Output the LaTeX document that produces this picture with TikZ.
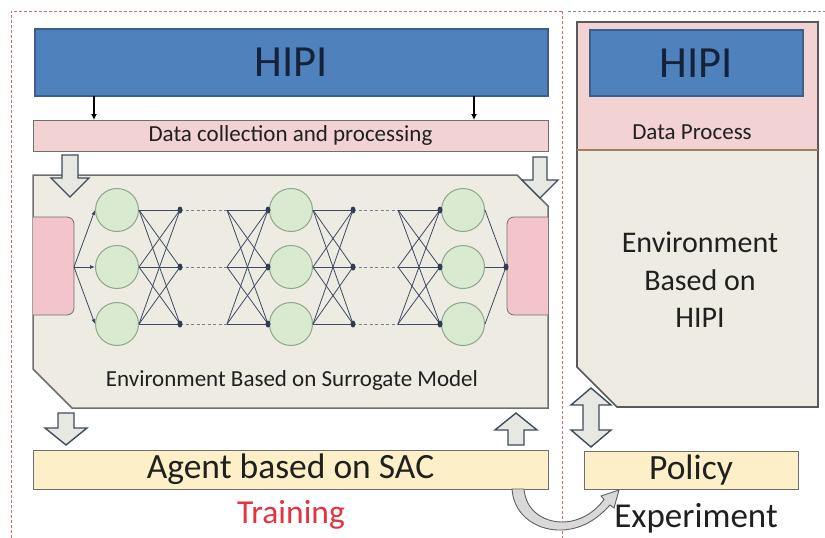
\documentclass[tikz,border=0pt]{standalone}
\usepackage{fontspec}
\setmainfont{Carlito}
\usetikzlibrary{arrows.meta}
\definecolor{hipiblue}{HTML}{4F81BD}
\definecolor{hipiborder}{HTML}{3A5F8C}
\definecolor{hipitext}{HTML}{16213A}
\definecolor{datapink}{HTML}{F2D2D2}
\definecolor{sidepink}{HTML}{F3C4C9}
\definecolor{envbeige}{HTML}{EEECE2}
\definecolor{neurgreen}{HTML}{D9EAD0}
\definecolor{neurborder}{HTML}{8EA58E}
\definecolor{agentyellow}{HTML}{FDF0C9}
\definecolor{boxborder}{HTML}{6F6F6F}
\definecolor{nncol}{HTML}{3C4A66}
\definecolor{arrowline}{HTML}{3E4C5C}
\definecolor{arrowfill}{HTML}{E8E8E2}
\definecolor{trainred}{HTML}{E2333E}
\definecolor{framered}{HTML}{D46A6A}
\definecolor{framegray}{HTML}{8A8A9A}
\definecolor{txt}{HTML}{202020}
\newcommand{\blkarr}[6]{%
  \draw[blkarrow] ({#1-#5},#2) -- ({#1+#5},#2) -- ({#1+#5},#3) -- ({#1+#6},#3)
    -- (#1,#4) -- ({#1-#6},#3) -- ({#1-#5},#3) -- cycle;}
\begin{document}
\begin{tikzpicture}[x=1pt,y=-1pt,
  bluebox/.style={draw=hipiborder,line width=1.2pt,fill=hipiblue,inner sep=0pt,outer sep=0pt,
     text=hipitext,font=\fontsize{44.5}{48}\selectfont},
  databox/.style={draw=boxborder,line width=1pt,fill=datapink,inner sep=0pt,outer sep=0pt,
     text=txt,font=\fontsize{23}{27}\selectfont},
  yellowbox/.style={draw=boxborder,line width=1pt,fill=agentyellow,inner sep=0pt,outer sep=0pt,
     text=txt,font=\fontsize{35.5}{40}\selectfont},
  envbox/.style={draw=boxborder,line width=1.5pt,fill=envbeige},
  sidebox/.style={draw=boxborder,line width=0.8pt,fill=sidepink,rounded corners=7pt},
  neuron/.style={circle,draw=neurborder,line width=1pt,fill=neurgreen,minimum size=43pt,inner sep=0pt},
  nnline/.style={draw=nncol,line width=0.8pt},
  nndash/.style={draw=nncol!70,line width=0.7pt,dash pattern=on 3pt off 2.5pt},
  blkarrow/.style={draw=arrowline,line width=1.4pt,fill=arrowfill,line join=miter},
  redframe/.style={draw=framered,line width=0.8pt,dash pattern=on 3pt off 2pt},
  grayframe/.style={draw=framegray,line width=0.8pt,dash pattern=on 3pt off 2pt},
  lbl/.style={text=txt,inner sep=0pt}
]
\useasboundingbox (0,0) rectangle (825,538);

% frames
\draw[redframe] (11,538) -- (11,11) -- (562,11);
\draw[redframe] (562,11) -- (562,538);
\draw[grayframe] (568,11) -- (825,11);

% left column
\node[bluebox,minimum width=513pt,minimum height=67pt] (hipi) at (291.5,62.5) {HIPI};
\node[databox,minimum width=515pt,minimum height=31pt] (data) at (290.5,135.5) {Data collection and processing};
\coordinate (h1) at (94,96); \coordinate (h2) at (474,96);
\coordinate (d1) at (94,120); \coordinate (d2) at (474,120);
\draw[line width=1.4pt,-{Latex[length=6pt,width=6pt]}] (h1) -- (d1);
\draw[line width=1.4pt,-{Latex[length=6pt,width=6pt]}] (h2) -- (d2);

% environment surrogate
\draw[envbox] (33,175) -- (517,175) -- (548,206) -- (548,408) -- (72,408) -- (33,369) -- cycle;
\filldraw[sidebox] (33,217) -- (74,217) -- (74,315) -- (33,315);
\filldraw[sidebox] (548,217) -- (507,217) -- (507,315) -- (548,315);
\node[lbl,font=\fontsize{23}{27}\selectfont] (envsur) at (292,380) {Environment Based on Surrogate Model};

% neural net
\foreach \c/\x in {1/117,2/291,3/463}{
  \foreach \r/\y in {1/210,2/267,3/324}{
    \node[neuron] (n\c\r) at (\x,\y) {};
  }
}
\foreach \r/\y in {1/210,2/267,3/324}{
  \coordinate (a\r) at (180,\y);
  \coordinate (fa\r) at (227,\y);
  \coordinate (b\r) at (268,\y);
  \coordinate (c\r) at (353,\y);
  \coordinate (fb\r) at (398,\y);
  \coordinate (d\r) at (440,\y);
}
\coordinate (nin) at (74,267);
\coordinate (nout) at (506,267);
\foreach \r in {1,2,3}{
  \draw[nnline,-{Latex[length=5pt,width=4pt]}] (nin) -- (n1\r.west);
  \draw[nnline] (n3\r.east) -- (nout);
  \draw[nndash] (a\r) -- (fa\r);
  \draw[nndash] (c\r) -- (fb\r);
  \foreach \s in {1,2,3}{
    \draw[nnline] (n1\r.east) -- (a\s);
    \draw[nnline] (fa\r) -- (b\s);
    \draw[nnline] (n2\r.east) -- (c\s);
    \draw[nnline] (fb\r) -- (d\s);
  }
  \fill[nncol!80!black] (a\r) ellipse (2.5pt and 3.5pt);
  \fill[nncol!80!black] (b\r) ellipse (2.5pt and 3.5pt);
  \fill[nncol!80!black] (c\r) ellipse (2.5pt and 3.5pt);
  \fill[nncol!80!black] (d\r) ellipse (2.5pt and 3.5pt);
}
\fill[nncol!80!black] (nout) ellipse (2.5pt and 3.5pt);

% block arrows
\blkarr{70}{155}{178}{197}{8}{19}
\blkarr{540}{157}{180}{198}{7}{18}
\blkarr{66}{413}{428}{445}{8}{21}
\blkarr{516}{445}{430}{413}{8}{21}

% agent
\node[yellowbox,minimum width=515pt,minimum height=39pt] (agent) at (290.5,469.5) {Agent based on SAC};
\node[lbl,text=trainred,font=\fontsize{33.5}{38}\selectfont] (train) at (291,515) {Training};

% right panel
\draw[envbox,line width=1.6pt,draw=boxborder!80!black] (577,22) -- (818,22) -- (818,407) -- (617,407) -- (577,367) -- cycle;
\fill[datapink] (577.8,22.8) rectangle (817.2,150);
\draw[draw=boxborder!80!black,line width=1.6pt] (577,22) -- (818,22) -- (818,150);
\draw[draw=boxborder!80!black,line width=1.6pt] (577,22) -- (577,150);
\draw[draw=brown!50!gray,line width=1.6pt] (577,150) -- (818,150);
\node[bluebox,minimum width=213pt,minimum height=66pt] (hipi2) at (696.5,63) {HIPI};
\node[lbl,font=\fontsize{23}{27}\selectfont] (dproc) at (692,132) {Data Process};
\node[lbl,font=\fontsize{30}{37.5}\selectfont,align=center] (envh) at (700,280) {Environment\\Based on\\HIPI};

% double arrow
\draw[blkarrow] (591,388) -- (611,405) -- (599,405) -- (599,430) -- (611,430) -- (591,447)
  -- (571,430) -- (583,430) -- (583,405) -- (571,405) -- cycle;

% policy
\node[yellowbox,minimum width=214pt,minimum height=38pt] (policy) at (691,470) {Policy};
\node[lbl,font=\fontsize{35}{40}\selectfont] (exper) at (696,518) {Experiment};

% curved arrow
\draw[draw=gray!75!black,line width=0.9pt,fill=gray!30]
  (512,489) .. controls (514,518) and (540,531) .. (562,530)
  .. controls (585,529) and (600,516) .. (610,505)
  -- (614,508) -- (619,490) -- (601,496) -- (604,499.5)
  .. controls (595,512) and (580,522) .. (562,522)
  .. controls (545,522) and (526,512) .. (524,489) -- cycle;
\end{tikzpicture}
\end{document}
